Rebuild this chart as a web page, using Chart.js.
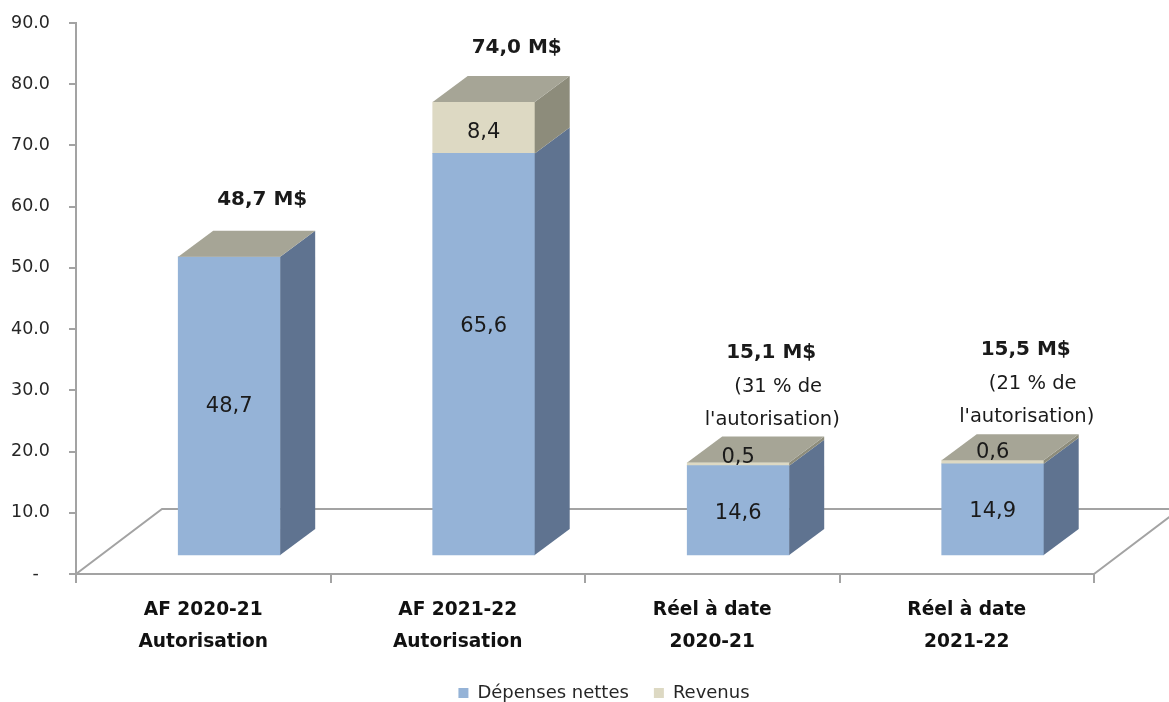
<!DOCTYPE html>
<html><head><meta charset="utf-8">
<script src="https://cdn.jsdelivr.net/npm/chart.js@4/dist/chart.umd.min.js"></script>
<style>html,body{margin:0;padding:0;background:#fff;overflow:hidden}#wrap{width:1169px;height:702px}</style>
</head><body><div id="wrap"><canvas id="c" width="1169" height="702"></canvas></div>
<script>
// ---- data ----
const categories = [['AF 2020-21', 'Autorisation'], ['AF 2021-22', 'Autorisation'], ['Réel à date', '2020-21'], ['Réel à date', '2021-22']];
const seriesNames = ['Dépenses nettes', 'Revenus'];
const depensesNettes = [48.7, 65.6, 14.6, 14.9];
const revenus = [0, 8.4, 0.5, 0.6];
const totalLabels = ['48,7 M$', '74,0 M$', '15,1 M$', '15,5 M$'];
const noteLabels = [[], [], ['(31 % de', "l'autorisation)"], ['(21 % de', "l'autorisation)"]];
const yMin = 0, yMax = 90, yStep = 10;

// ---- style ----
const FONT = "'DejaVu Sans', sans-serif";
const AXIS = '#a3a3a3';
const frontColors = ['#95B3D7', '#DDD9C3'];
const sideColors = ['#5F7390', '#8D8C7B'];
const topColor = '#A6A596';
const barDepth = {dx: 35, dy: -26};
const floorDepth = {dx: 86, dy: -65};
const valueDy = [[1, -28, 3, 2], [0, 5, -7, -9]];
const totalDy = [-57, -54, -110, -110];
const totalDx = 33;
const noteOffsets = [{dx: 40, dy: -76}, {dx: 34, dy: -43}];

const fmt = v => v.toFixed(1).replace('.', ',');

const threeD = {
  id: 'threeD',
  afterLayout(chart) {
    const lg = chart.legend;
    if (lg) { lg.left += 57; lg.right += 57; lg.top += 10; lg.bottom += 10; }
  },
  beforeDatasetsDraw(chart) {
    const {ctx, chartArea: a} = chart;
    ctx.save();
    ctx.strokeStyle = AXIS; ctx.lineWidth = 2;
    ctx.beginPath();
    ctx.moveTo(a.left, a.bottom);
    ctx.lineTo(a.left + floorDepth.dx, a.bottom + floorDepth.dy);
    ctx.lineTo(a.right + floorDepth.dx, a.bottom + floorDepth.dy);
    ctx.moveTo(a.right, a.bottom);
    ctx.lineTo(a.right + floorDepth.dx, a.bottom + floorDepth.dy);
    ctx.stroke();
    ctx.restore();
  },
  afterDatasetsDraw(chart) {
    const {ctx} = chart;
    const n = chart.data.datasets.length;
    ctx.save();
    for (let di = 0; di < n; di++) {
      const meta = chart.getDatasetMeta(di);
      meta.data.forEach(bar => {
        const p = bar.getProps(['x', 'y', 'base', 'width'], true);
        const r = p.x + p.width / 2;
        const t = Math.min(p.y, p.base), b = Math.max(p.y, p.base);
        if (b - t <= 0) return;
        ctx.fillStyle = sideColors[di];
        ctx.beginPath();
        ctx.moveTo(r, t);
        ctx.lineTo(r + barDepth.dx, t + barDepth.dy);
        ctx.lineTo(r + barDepth.dx, b + barDepth.dy);
        ctx.lineTo(r, b);
        ctx.closePath();
        ctx.fill();
      });
    }
    const topMeta = chart.getDatasetMeta(n - 1);
    topMeta.data.forEach(bar => {
      const p = bar.getProps(['x', 'y', 'base', 'width'], true);
      const l = p.x - p.width / 2, r = p.x + p.width / 2, t = Math.min(p.y, p.base);
      ctx.fillStyle = topColor;
      ctx.beginPath();
      ctx.moveTo(l, t);
      ctx.lineTo(l + barDepth.dx, t + barDepth.dy);
      ctx.lineTo(r + barDepth.dx, t + barDepth.dy);
      ctx.lineTo(r, t);
      ctx.closePath();
      ctx.fill();
    });
    ctx.textAlign = 'center';
    ctx.textBaseline = 'middle';
    ctx.fillStyle = '#1a1a1a';
    ctx.font = '21px ' + FONT;
    for (let di = 0; di < n; di++) {
      const meta = chart.getDatasetMeta(di);
      const vals = chart.data.datasets[di].data;
      meta.data.forEach((bar, i) => {
        const v = vals[i].y;
        if (!v) return;
        const p = bar.getProps(['x', 'y', 'base'], true);
        ctx.fillText(fmt(v), p.x, (p.y + p.base) / 2 + valueDy[di][i]);
      });
    }
    topMeta.data.forEach((bar, i) => {
      const p = bar.getProps(['x', 'y', 'base'], true);
      const t = Math.min(p.y, p.base);
      ctx.font = 'bold 20px ' + FONT;
      ctx.fillText(totalLabels[i], p.x + totalDx, t + totalDy[i]);
      ctx.font = '19.5px ' + FONT;
      noteLabels[i].forEach((s, j) => {
        ctx.fillText(s, p.x + noteOffsets[j].dx, t + noteOffsets[j].dy);
      });
    });
    ctx.restore();
  }
};

new Chart(document.getElementById('c'), {
  type: 'bar',
  data: {
    labels: categories,
    datasets: [
      {label: seriesNames[0], data: depensesNettes.map((v, i) => ({x: i, y: v})), backgroundColor: frontColors[0],
       borderWidth: 0, xAxisID: 'x2', yAxisID: 'y2', barThickness: 102, stack: 's'},
      {label: seriesNames[1], data: revenus.map((v, i) => ({x: i, y: v})), backgroundColor: frontColors[1],
       borderWidth: 0, xAxisID: 'x2', yAxisID: 'y2', barThickness: 102, stack: 's'}
    ]
  },
  options: {
    responsive: false,
    animation: false,
    devicePixelRatio: 1,
    layout: {padding: {top: 23, right: 75, bottom: 0, left: 0}},
    plugins: {
      tooltip: {enabled: false},
      legend: {
        position: 'bottom',
        labels: {boxWidth: 10, boxHeight: 10, padding: 25, color: '#262626', font: {family: FONT, size: 18}}
      }
    },
    scales: {
      x: {
        type: 'category', position: 'bottom', offset: true,
        grid: {display: true, drawOnChartArea: false, drawTicks: true, tickLength: 9, color: AXIS, lineWidth: 2, offset: true},
        border: {display: true, color: AXIS, width: 2},
        ticks: {font: {family: FONT, size: 18.6, weight: 'bold', lineHeight: 1.72}, color: '#111', padding: 11, maxRotation: 0, autoSkip: false},
        afterFit(s) { s.height = 75; }
      },
      y: {
        type: 'linear', position: 'left', min: yMin, max: yMax,
        ticks: {stepSize: yStep, callback: v => v === 0 ? '-  ' : v.toFixed(1), font: {family: FONT, size: 17.5}, color: '#262626', padding: 19},
        grid: {drawOnChartArea: false, tickLength: 7, color: AXIS, lineWidth: 2},
        border: {display: true, color: AXIS, width: 2},
        afterFit(s) { s.width = 76; s.paddingTop = 10; s.paddingBottom = 10; }
      },
      x2: {type: 'linear', display: false, offset: false, min: -0.602, max: 3.398, stacked: true},
      y2: {type: 'linear', display: false, min: -3.1, max: 86.9, stacked: true}
    }
  },
  plugins: [threeD]
});
</script></body></html>
